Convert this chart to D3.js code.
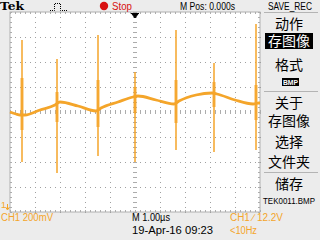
<!DOCTYPE html>
<html lang="zh">
<head>
<meta charset="utf-8">
<title>Tek CH1 capture</title>
<script src="https://cdn.jsdelivr.net/npm/d3@7"></script>
<style>
  body { margin: 0; background: #ececec; }
  svg { display: block; }
  text { font-family: "Liberation Sans", Arial, sans-serif; }
  .cjk { font-family: "Noto Sans CJK SC", sans-serif; }
</style>
</head>
<body>
<script>
// CH1 trace: time in us (1.00us/div, M Pos 0),
// level in mV about screen centre (200mV/div)
var traceT  = [-5.00, -4.76, -4.60, -4.40, -3.80, -3.20, -3.00, -2.28, -1.56, -1.36, -0.68, -0.08,
               0.12, 0.84, 1.56, 1.76, 2.44, 3.08, 3.28, 4.00, 4.72, 4.96, 5.00];
var traceMV = [0, -16, -24, -24, 16, 56, 80, 48, 8, 32, 80, 120,
               128, 96, 64, 88, 136, 152, 144, 96, 64, 72, 72];

// switching spikes
var spikeT      = [-4.52, -3.12, -1.48, 0.00, 1.64, 3.16, 4.84];
var spikeTop    = [576, 424, 616, 320, 656, 392, 704];
var spikeBottom = [-400, -488, -352, -400, -304, -320, -304];
var burstTop    = [272, 160, 256, 200, 256, 240, 216];
var burstBottom = [-144, -80, -120, -8, -88, 40, -64];

// right hand menu (SAVE_REC)
var menuItems = ["动作", "存图像", "格式", "BMP", "关于", "存图像", "选择", "文件夹", "储存", "TEK0011.BMP"];
var menuY     = [24, 41, 65, 82, 103, 121, 142, 162, 184, 201];

var w = 320, h = 240;
var orange = "#f4a52a";

var x = d3.scaleLinear().domain([-5, 5]).range([10, 260]);
var y = d3.scaleLinear().domain([-800, 800]).range([212, 12]);

var svg = d3.select("body").append("svg")
    .attr("width", w)
    .attr("height", h);

svg.append("rect")
    .attr("width", w).attr("height", h)
    .attr("fill", "#ececec");

// graticule
svg.append("rect")
    .attr("x", x(-5)).attr("y", y(800))
    .attr("width", x(5) - x(-5)).attr("height", y(-800) - y(800))
    .attr("fill", "#ffffff")
    .attr("stroke", "#b0b0b0")
    .attr("stroke-width", 1);

var fine = d3.range(0, 51).map(function(i) { return -5 + i * 0.2; });
var fineV = d3.range(0, 41).map(function(i) { return -800 + i * 40; });
var dots = [];
d3.range(-4, 5).forEach(function(gx) {
    fineV.forEach(function(v) { dots.push([gx, v]); });
});
d3.range(-600, 800, 200).forEach(function(gy) {
    fine.forEach(function(t) { dots.push([t, gy]); });
});
svg.append("g").selectAll("rect")
    .data(dots)
    .enter()
    .append("rect")
    .attr("x", function(d) { return Math.round(x(d[0])); })
    .attr("y", function(d) { return Math.round(y(d[1])); })
    .attr("width", 1).attr("height", 1)
    .attr("fill", "#a0a0a0");

// minor ticks on the frame and on the centre lines
var ticks = svg.append("g").attr("stroke", "#acacac").attr("stroke-width", 1);
fine.forEach(function(t) {
    var px = Math.round(x(t)) + 0.5;
    ticks.append("line").attr("x1", px).attr("x2", px).attr("y1", y(800)).attr("y2", y(800) + 2);
    ticks.append("line").attr("x1", px).attr("x2", px).attr("y1", y(-800)).attr("y2", y(-800) - 2);
    ticks.append("line").attr("x1", px).attr("x2", px).attr("y1", y(0) - 2).attr("y2", y(0) + 2);
});
fineV.forEach(function(v) {
    var py = Math.round(y(v)) + 0.5;
    ticks.append("line").attr("y1", py).attr("y2", py).attr("x1", x(-5)).attr("x2", x(-5) + 2);
    ticks.append("line").attr("y1", py).attr("y2", py).attr("x1", x(5)).attr("x2", x(5) - 2);
    ticks.append("line").attr("y1", py).attr("y2", py).attr("x1", x(0) - 2).attr("x2", x(0) + 2);
});

// trace
var trace = traceT.map(function(t, i) { return [t, traceMV[i]]; });
var line = d3.line()
    .curve(d3.curveMonotoneX)
    .x(function(d) { return x(d[0]); })
    .y(function(d) { return y(d[1]); });

svg.append("path")
    .datum(trace)
    .attr("d", line)
    .attr("fill", "none")
    .attr("stroke", orange)
    .attr("stroke-width", 2.8)
    .attr("stroke-linejoin", "round");

svg.append("g").selectAll("line")
    .data(spikeT)
    .enter()
    .append("line")
    .attr("x1", function(d) { return x(d); })
    .attr("x2", function(d) { return x(d); })
    .attr("y1", function(d, i) { return y(spikeTop[i]); })
    .attr("y2", function(d, i) { return y(spikeBottom[i]); })
    .attr("stroke", orange)
    .attr("stroke-width", 1.5);

svg.append("g").selectAll("line")
    .data(spikeT)
    .enter()
    .append("line")
    .attr("x1", function(d) { return x(d); })
    .attr("x2", function(d) { return x(d); })
    .attr("y1", function(d, i) { return y(burstTop[i]); })
    .attr("y2", function(d, i) { return y(burstBottom[i]); })
    .attr("stroke", orange)
    .attr("stroke-opacity", 0.85)
    .attr("stroke-width", 3);

// trigger position marker
svg.append("path")
    .attr("d", "M131,13.5H139M132,14L135,18L138,14Z")
    .attr("fill", "#000").attr("stroke", "#000").attr("stroke-width", 1);

// ground marker
svg.append("text").attr("x", 1).attr("y", 208)
    .attr("font-size", 9).attr("fill", orange).text("1");
svg.append("path")
    .attr("d", "M7.5,204V209M5.5,207L7.5,210L9.5,207")
    .attr("fill", "none").attr("stroke", orange).attr("stroke-width", 1);

// header
svg.append("text").attr("x", 0).attr("y", 10)
    .style("font-family", "'DejaVu Serif', serif")
    .attr("font-weight", "bold").attr("font-size", 11)
    .attr("textLength", 24).attr("lengthAdjust", "spacingAndGlyphs")
    .text("Tek");

svg.append("path")
    .attr("d", "M50,10.5H54.5V3.5H60.5V10.5H68")
    .attr("fill", "none").attr("stroke", "#000").attr("stroke-width", 1)
    .attr("stroke-dasharray", "1,1");

svg.append("circle").attr("cx", 104).attr("cy", 6).attr("r", 4.2).attr("fill", "#d81010");
svg.append("text").attr("x", 112).attr("y", 10)
    .attr("font-size", 10).attr("fill", "#d81010")
    .attr("textLength", 20).attr("lengthAdjust", "spacingAndGlyphs")
    .text("Stop");

svg.append("text").attr("x", 180).attr("y", 9.5)
    .attr("font-size", 10)
    .attr("textLength", 55).attr("lengthAdjust", "spacingAndGlyphs")
    .text("M Pos: 0.000s");

svg.append("text").attr("x", 268).attr("y", 9.5)
    .attr("font-size", 10)
    .attr("textLength", 44).attr("lengthAdjust", "spacingAndGlyphs")
    .text("SAVE_REC");

// menu panel
var sep = svg.append("g").attr("stroke", "#b4b4b4").attr("stroke-width", 1);
[12.5, 91.5, 172.5].forEach(function(sy) {
    sep.append("line").attr("x1", 264).attr("x2", 318).attr("y1", sy).attr("y2", sy);
});

svg.append("rect").attr("x", 265).attr("y", 33).attr("width", 48).attr("height", 16).attr("fill", "#000");
svg.append("rect").attr("x", 282).attr("y", 78).attr("width", 17).attr("height", 8).attr("fill", "#000");

svg.append("g").selectAll("text")
    .data(menuItems)
    .enter()
    .append("text")
    .attr("class", function(d, i) { return (i == 3 || i == 9) ? null : "cjk"; })
    .attr("x", function(d, i) { return i == 3 ? 290.5 : 289; })
    .attr("y", function(d, i) { return menuY[i]; })
    .attr("dy", "0.36em")
    .attr("text-anchor", "middle")
    .attr("font-size", function(d, i) { return i == 3 ? 8 : (i == 9 ? 9.5 : 14); })
    .attr("font-weight", function(d, i) { return i == 3 ? "bold" : null; })
    .attr("textLength", function(d, i) { return i == 3 ? 15 : (i == 9 ? 52 : null); })
    .attr("lengthAdjust", "spacingAndGlyphs")
    .attr("fill", function(d, i) { return (i == 1 || i == 3) ? "#fff" : "#000"; })
    .text(function(d) { return d; });

// status line
svg.append("text").attr("x", 1).attr("y", 220.5)
    .attr("font-size", 10).attr("fill", orange)
    .attr("textLength", 52).attr("lengthAdjust", "spacingAndGlyphs")
    .text("CH1  200mV");
svg.append("text").attr("x", 132).attr("y", 220.5)
    .attr("font-size", 10)
    .attr("textLength", 38).attr("lengthAdjust", "spacingAndGlyphs")
    .text("M 1.00\u00b5s");
svg.append("text").attr("x", 132).attr("y", 233.5)
    .attr("font-size", 10)
    .attr("textLength", 81).attr("lengthAdjust", "spacingAndGlyphs")
    .text("19-Apr-16 09:23");
svg.append("text").attr("x", 230).attr("y", 220.5)
    .attr("font-size", 10).attr("fill", orange)
    .attr("textLength", 53).attr("lengthAdjust", "spacingAndGlyphs")
    .text("CH1 \u2215 12.2V");
svg.append("text").attr("x", 230).attr("y", 233.5)
    .attr("font-size", 10).attr("fill", orange)
    .attr("textLength", 27).attr("lengthAdjust", "spacingAndGlyphs")
    .text("<10Hz");
</script>
</body>
</html>
